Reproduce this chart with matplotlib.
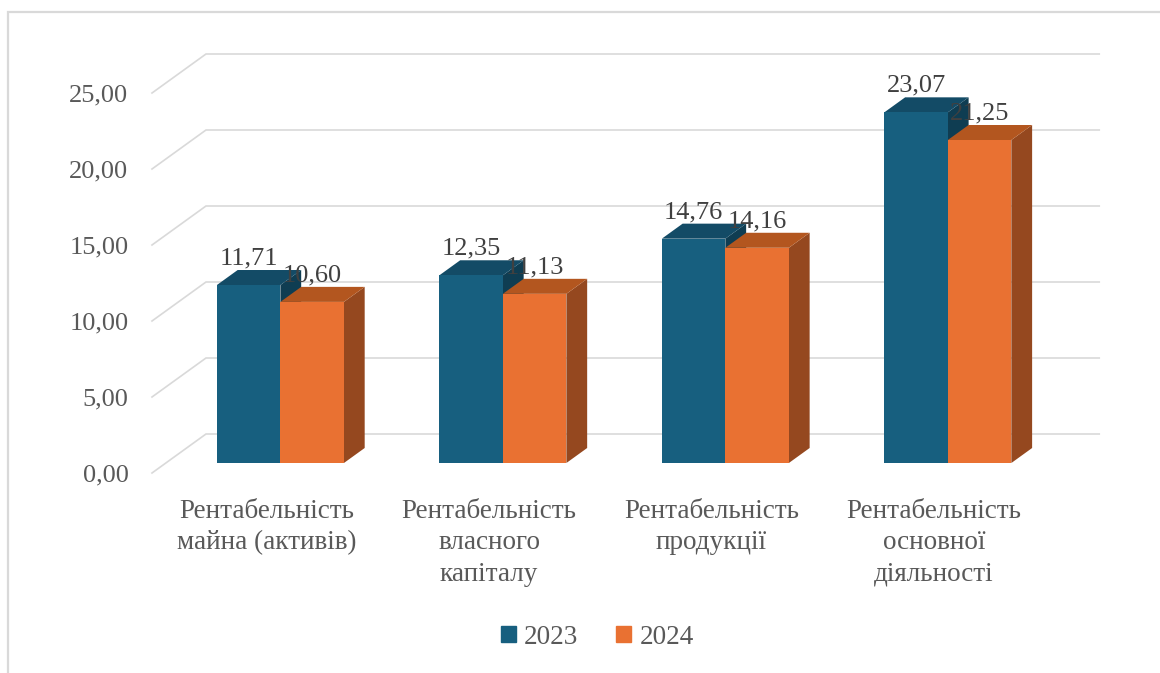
import numpy as np
import matplotlib.pyplot as plt
from matplotlib.patches import Patch, Rectangle

categories = ["Рентабельність\nмайна (активів)", "Рентабельність\nвласного\nкапіталу",
              "Рентабельність\nпродукції", "Рентабельність\nосновної\nдіяльності"]
years = ["2023", "2024"]
vals_2023 = [11.71, 12.35, 14.76, 23.07]
vals_2024 = [10.60, 11.13, 14.16, 21.25]
yticks = [0, 5, 10, 15, 20, 25]

# colours: front, top, side
blue = ("#175F7F", "#134B66", "#0F3D52")
orange = ("#E97132", "#B3561F", "#95481F")
txt = "#595959"
grid_c = "#d9d9d9"

plt.rcParams['font.family'] = ['Liberation Serif', 'DejaVu Serif']

# pseudo-3D projection: depth d in [0,1] shifts by (DX, DY)
DX = 0.2427
DY = 2.566
XL, XR = -0.515, 3.5
W = 0.2854          # bar width
F0, DEP = 0.256, 0.385   # bar front depth and bar depth


def proj(x, v, d):
    return x + d * DX, v + d * DY


fig = plt.figure(figsize=(11.6, 6.73), dpi=100)
fig.patches.append(Rectangle((8 / 1160, -0.1), 1.2, 1 - 12 / 673 + 0.1,
                             transform=fig.transFigure, fill=False,
                             edgecolor=grid_c, lw=1.6))

ax = fig.add_axes([152 / 1160, 1 - 473 / 673, (1045.25 - 152) / 1160, (473 - 54) / 673])
ax.set_xlim(XL, XR)
ax.set_ylim(0, 25 + DY)
for s in ax.spines.values():
    s.set_visible(False)

# grid: diagonal on the left floor edge + back wall line
for v in yticks:
    p0 = proj(XL, v, 0)
    p1 = proj(XL, v, 1)
    p2 = proj(XR, v, 1)
    ax.plot([p0[0], p1[0], p2[0]], [p0[1], p1[1], p2[1]], color=grid_c, lw=1.2,
            clip_on=False, zorder=1, solid_joinstyle='miter')


def bar3d(x0, h, cols):
    front, top, side = cols
    x1 = x0 + W
    d0, d1 = F0, F0 + DEP
    # side
    pts = [proj(x1, 0, d0), proj(x1, 0, d1), proj(x1, h, d1), proj(x1, h, d0)]
    ax.fill(*zip(*pts), color=side, lw=0, clip_on=False, zorder=3)
    # top
    pts = [proj(x0, h, d0), proj(x1, h, d0), proj(x1, h, d1), proj(x0, h, d1)]
    ax.fill(*zip(*pts), color=top, lw=0, clip_on=False, zorder=3)
    # front
    pts = [proj(x0, 0, d0), proj(x1, 0, d0), proj(x1, h, d0), proj(x0, h, d0)]
    ax.fill(*zip(*pts), color=front, lw=0, clip_on=False, zorder=3)
    cx, _ = proj(x0 + W / 2, h, d0)
    _, ty = proj(x0, h, d1)
    ax.annotate(f"{h:.2f}".replace(".", ","), (cx, ty), xytext=(0, 4),
                textcoords="offset points", ha="center", va="baseline",
                fontsize=19, color="#404040", zorder=5, annotation_clip=False)


for i in range(len(categories)):
    bar3d(i - W, vals_2023[i], blue)
    bar3d(i, vals_2024[i], orange)

ax.set_yticks(yticks)
ax.set_yticklabels([f"{v:.2f}".replace(".", ",") for v in yticks])
ax.set_xticks(range(len(categories)))
ax.set_xticklabels(categories)
ax.tick_params(axis="y", length=0, pad=17, labelsize=19, labelcolor=txt)
ax.tick_params(axis="x", length=0, pad=19, labelsize=19.5, labelcolor=txt)
for lab in ax.get_xticklabels():
    lab.set_linespacing(1.32)

handles = [Patch(color=blue[0]), Patch(color=orange[0])]
fig.legend(handles, years, loc="center", bbox_to_anchor=(0.515, 1 - 637 / 673),
           ncol=2, frameon=False, fontsize=19.5, labelcolor=txt,
           handlelength=0.55, handleheight=0.55, handletextpad=0.3, columnspacing=1.4)

fig.savefig("out.png", dpi=100, facecolor="white")
